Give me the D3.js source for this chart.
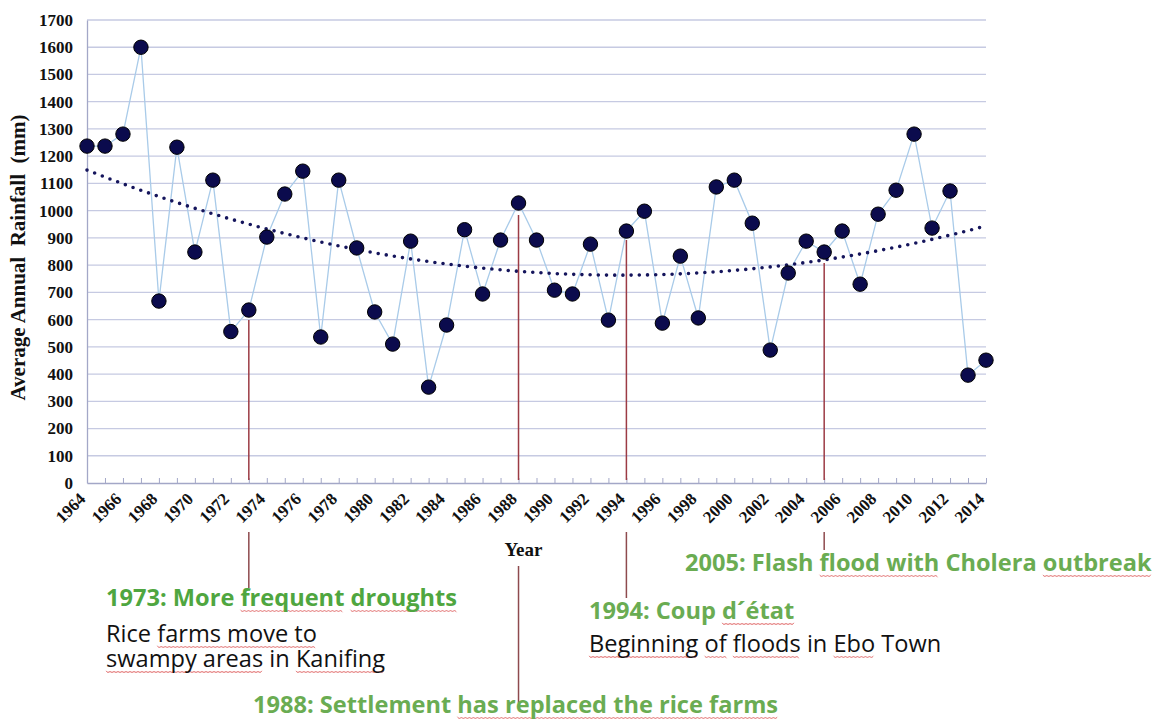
<!DOCTYPE html>
<html>
<head>
<meta charset="utf-8">
<script src="https://cdn.jsdelivr.net/npm/d3@7"></script>
<style>
  body { margin: 0; background: #fff; }
  #chart { position: relative; width: 1164px; height: 726px; overflow: hidden; }
  svg { display: block; }
  .note { position: absolute; white-space: pre; font-family: "Open Sans"; }
</style>
</head>
<body>
<div id="chart"></div>
<script>
// data
var years = d3.range(1964, 2015);
var rainfall = [1237, 1237, 1281, 1600, 668, 1233, 848, 1112, 556, 635,
                903, 1061, 1145, 536, 1112, 863, 628, 510, 888, 352,
                580, 930, 694, 892, 1028, 892, 708, 694, 877, 598,
                925, 998, 587, 833, 606, 1087, 1112, 954, 488, 771,
                888, 848, 925, 730, 987, 1075, 1281, 936, 1072, 396, 451];
var yTicks = d3.range(0, 1800, 100);
var eventYears = [1973, 1988, 1994, 2005];

var svgWidth = 1164, svgHeight = 726;
var margin = {top: 20, left: 87, right: 178, bottom: 243};
var width = svgWidth - margin.left - margin.right;
var height = svgHeight - margin.top - margin.bottom;

var svg = d3.select("#chart").append("svg").attr("width", svgWidth).attr("height", svgHeight);
var chartGroup = svg.append("g").attr("transform", `translate(${margin.left},${margin.top})`);

var xScale = d3.scaleLinear().domain([1964, 2014]).range([0, width]);
var yScale = d3.scaleLinear().domain([0, 1700]).range([height, 0]);

// grid lines
chartGroup.append("g").selectAll("line").data(yTicks.slice(1)).enter().append("line")
    .attr("x1", 0).attr("x2", width)
    .attr("y1", d => yScale(d)).attr("y2", d => yScale(d))
    .attr("stroke", "#c6cae2").attr("stroke-width", 1.3);

// y axis
var leftAxis = d3.axisLeft(yScale).tickValues(yTicks).tickSize(0).tickPadding(14).tickFormat(d3.format("d"));
var yAxisG = chartGroup.append("g").call(leftAxis);
yAxisG.select(".domain").attr("stroke", "#a3a7c7").attr("stroke-width", 1.3);
yAxisG.selectAll("text").attr("font-family", "Liberation Serif").attr("font-weight", "bold")
    .attr("font-size", "17px").attr("fill", "#111");

// x axis
var bottomAxis = d3.axisBottom(xScale).tickValues(years).tickSizeInner(-5).tickSizeOuter(0)
    .tickFormat(d => (d % 2 === 0 ? d : ""));
var xAxisG = chartGroup.append("g").attr("transform", `translate(0,${height})`).call(bottomAxis);
xAxisG.select(".domain").attr("stroke", "#a3a7c7").attr("stroke-width", 1.3);
xAxisG.selectAll("line").attr("stroke", "#a3a7c7");
xAxisG.selectAll("text")
    .attr("font-family", "Liberation Serif").attr("font-weight", "bold").attr("font-size", "17px")
    .attr("fill", "#111").attr("text-anchor", "end")
    .attr("x", -1).attr("y", 17).attr("dy", 0)
    .attr("transform", "rotate(-45 -1 17)");

// axis titles
svg.append("text").attr("transform", `translate(25,${margin.top + height / 2 + 6}) rotate(-90)`)
    .attr("text-anchor", "middle").attr("font-family", "Liberation Serif").attr("font-weight", "bold")
    .attr("font-size", "21px").attr("fill", "#111").attr("xml:space", "preserve")
    .text("Average Annual  Rainfall  (mm)");
svg.append("text").attr("x", margin.left + width / 2 - 13).attr("y", 556)
    .attr("text-anchor", "middle").attr("font-family", "Liberation Serif").attr("font-weight", "bold")
    .attr("font-size", "19px").attr("fill", "#111").text("Year");

// event marker lines (inside chart, below the point, and below the tick labels)
var markerTop = {1973: 320, 1988: 215, 1994: 240, 2005: 263};
var markerLow = {1973: [532, 588], 1988: [566, 703], 1994: [532, 598], 2005: [532, 550]};
eventYears.forEach(function(yr){
    var x = margin.left + xScale(yr);
    svg.append("line").attr("x1", x).attr("x2", x).attr("y1", markerTop[yr]).attr("y2", margin.top + height - 3)
        .attr("stroke", "#9c3b44").attr("stroke-width", 1.5);
    svg.append("line").attr("x1", x).attr("x2", x).attr("y1", markerLow[yr][0]).attr("y2", markerLow[yr][1])
        .attr("stroke", "#8e4a4e").attr("stroke-width", 1.5);
});

// data line
var line = d3.line().x((d, i) => xScale(years[i])).y(d => yScale(d));
chartGroup.append("path").attr("d", line(rainfall)).attr("fill", "none")
    .attr("stroke", "#a9cbe9").attr("stroke-width", 1.3);

// polynomial (order 2) trend line fitted to the data
function quadFit(xs, ys){
    var s = [0,0,0,0,0], t = [0,0,0];
    xs.forEach(function(x, i){
        for (var k = 0; k < 5; k++) s[k] += Math.pow(x, k);
        for (var k = 0; k < 3; k++) t[k] += ys[i] * Math.pow(x, k);
    });
    var A = [[s[0], s[1], s[2], t[0]], [s[1], s[2], s[3], t[1]], [s[2], s[3], s[4], t[2]]];
    for (var c = 0; c < 3; c++){
        for (var r = c + 1; r < 3; r++){
            var f = A[r][c] / A[c][c];
            for (var k = c; k < 4; k++) A[r][k] -= f * A[c][k];
        }
    }
    var b = [0,0,0];
    for (var r = 2; r >= 0; r--){
        var v = A[r][3];
        for (var k = r + 1; k < 3; k++) v -= A[r][k] * b[k];
        b[r] = v / A[r][r];
    }
    return b;
}
var coef = quadFit(years.map(d => d - 1989), rainfall);
var trendYears = d3.range(1964, 2014.01, 0.25);
var trendLine = d3.line().x(d => xScale(d))
    .y(d => yScale(coef[0] + coef[1] * (d - 1989) + coef[2] * (d - 1989) * (d - 1989)));
chartGroup.append("path").attr("d", trendLine(trendYears)).attr("fill", "none")
    .attr("stroke", "#15155c").attr("stroke-width", 3.6).attr("stroke-linecap", "round")
    .attr("stroke-dasharray", "0,8.2");

// points
chartGroup.selectAll("circle").data(rainfall).enter().append("circle")
    .attr("cx", (d, i) => xScale(years[i])).attr("cy", d => yScale(d)).attr("r", 7.2)
    .attr("fill", "#0b0b4d").attr("stroke", "#000").attr("stroke-width", 1);

// annotations; spell-check style squiggles under some words
var noteSize = 23.6, noteLine = 25;
var squiggles = svg.append("g");
var squiggle = d3.line().curve(d3.curveBasis);
function note(x, baseline, weight, color, text, marked){
    var top = baseline - ((noteLine - 1.362 * noteSize) / 2 + 1.069 * noteSize);
    var div = d3.select("#chart").append("div").attr("class", "note")
        .style("left", x + "px").style("top", top + "px")
        .style("font-size", noteSize + "px").style("line-height", noteLine + "px")
        .style("font-weight", weight).style("color", color).text(text);
    var node = div.node().firstChild, from = 0;
    marked.forEach(function(w){
        var i = text.indexOf(w, from);
        from = i + w.length;
        var range = document.createRange();
        range.setStart(node, i); range.setEnd(node, i + w.length);
        var r = range.getBoundingClientRect();
        var lineNo = text.slice(0, i).split("\n").length - 1;
        var y = baseline + lineNo * noteLine + 4;
        var pts = d3.range(r.left, r.right, 2).map((px, k) => [px, y + (k % 2 ? 1.1 : -1.1)]);
        squiggles.append("path").attr("d", squiggle(pts)).attr("fill", "none")
            .attr("stroke", "#e06464").attr("stroke-width", 1);
    });
}
var green1 = "#4fa640", green2 = "#6aac52";
note(685, 572, 700, green2, "2005: Flash flood with Cholera outbreak", ["flood with", "outbreak"]);
note(106, 607, 700, green1, "1973: More frequent droughts", ["frequent", "droughts"]);
note(106, 643, 400, "#111", "Rice farms move to\nswampy areas in Kanifing", ["farms move to", "swampy areas", "Kanifing"]);
note(589, 620, 700, green2, "1994: Coup d\u00b4\u00e9tat", ["d\u00b4\u00e9tat"]);
note(589, 653, 400, "#111", "Beginning of floods in Ebo Town", ["Beginning", "of", "floods", "Ebo"]);
note(253, 714, 700, green2, "1988: Settlement has replaced the rice farms", ["has replaced the rice farms"]);
</script>
</body>
</html>
